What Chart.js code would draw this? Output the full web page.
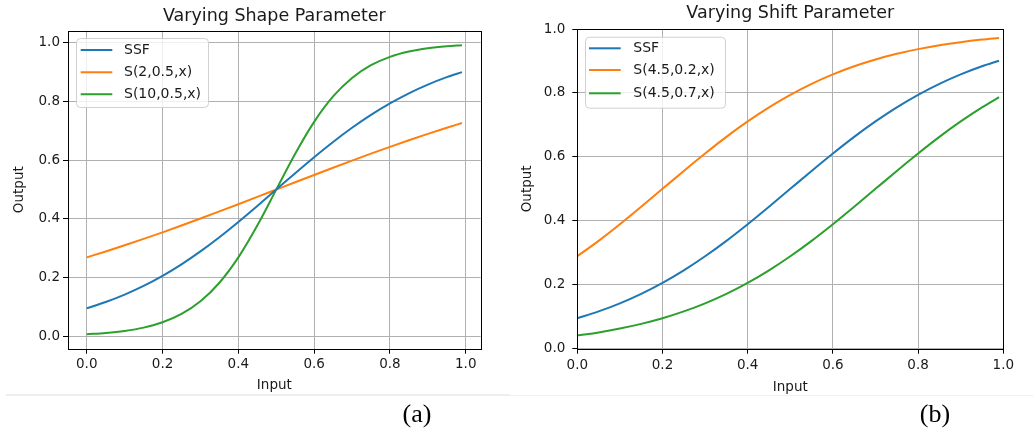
<!DOCTYPE html>
<html>
<head>
<meta charset="utf-8">
<script src="https://cdn.jsdelivr.net/npm/chart.js@4.4.1/dist/chart.umd.min.js"></script>
<style>
html,body{margin:0;padding:0;background:#fff;width:1033px;height:431px;overflow:hidden;position:relative}
canvas{position:absolute;top:0}
#ca{left:0}
#cb{left:510px}
.sep{position:absolute}
.cap{position:absolute;width:100px;text-align:center;font-family:"Liberation Serif","Times New Roman",serif;font-size:26px;line-height:26px;color:#000}
</style>
</head>
<body>
<canvas id="ca" width="510" height="400"></canvas>
<canvas id="cb" width="523" height="400"></canvas>
<div class="sep" style="left:6px;top:394px;width:504px;height:2px;background:#eeeeee"></div>
<div class="sep" style="left:510px;top:395px;width:523px;height:1px;background:#f0f0f0"></div>
<div class="cap" style="left:367px;top:401px">(a)</div>
<div class="cap" style="left:885px;top:401px">(b)</div>
<script>
// ---- data ----
const xValues = [0.00,0.05,0.10,0.15,0.20,0.25,0.30,0.35,0.40,0.45,0.50,0.55,0.60,0.65,0.70,0.75,0.80,0.85,0.90,0.95,0.99];
const ssfValues = [0.0953,0.1166,0.1419,0.1715,0.2059,0.2451,0.2891,0.3374,0.3894,0.4440,0.5000,0.5560,0.6106,0.6626,0.7109,0.7549,0.7941,0.8285,0.8581,0.8834,0.9007];
const shape2Values = [0.2689,0.2891,0.3100,0.3318,0.3543,0.3775,0.4013,0.4256,0.4502,0.4750,0.5000,0.5250,0.5498,0.5744,0.5987,0.6225,0.6457,0.6682,0.6900,0.7109,0.7271];
const shape10Values = [0.0067,0.0110,0.0180,0.0293,0.0474,0.0759,0.1192,0.1824,0.2689,0.3775,0.5000,0.6225,0.7311,0.8176,0.8808,0.9241,0.9526,0.9707,0.9820,0.9890,0.9926];
const shift02Values = [0.2891,0.3374,0.3894,0.4440,0.5000,0.5560,0.6106,0.6626,0.7109,0.7549,0.7941,0.8285,0.8581,0.8834,0.9047,0.9223,0.9370,0.9491,0.9589,0.9669,0.9722];
const shift07Values = [0.0411,0.0509,0.0630,0.0776,0.0953,0.1166,0.1419,0.1715,0.2059,0.2451,0.2891,0.3374,0.3894,0.4440,0.5000,0.5560,0.6106,0.6626,0.7109,0.7549,0.7867];
const xTicks = [0.0,0.2,0.4,0.6,0.8,1.0];
const yTicks = [0.0,0.2,0.4,0.6,0.8,1.0];
const labelsA = ['SSF','S(2,0.5,x)','S(10,0.5,x)'];
const labelsB = ['SSF','S(4.5,0.2,x)','S(4.5,0.7,x)'];
const colors = ['#1f77b4','#ff7f0e','#2ca02c'];

Chart.defaults.font.family = '"DejaVu Sans", sans-serif';

const framePlugin = {
  id: 'frame',
  afterDatasetsDraw(chart) {
    const a = chart.chartArea, ctx = chart.ctx;
    const l = Math.round(a.left) + 0.5, t = Math.round(a.top) + 0.5;
    const r = Math.round(a.right) + 0.5, b = Math.round(a.bottom) + 0.5;
    ctx.save();
    ctx.strokeStyle = '#000';
    ctx.lineWidth = 1;
    ctx.strokeRect(l, t, r - l, b - t);
    ctx.restore();
  }
};

const legendPlugin = {
  id: 'mplLegend',
  afterDatasetsDraw(chart, args, o) {
    const ctx = chart.ctx;
    ctx.save();
    ctx.beginPath();
    ctx.roundRect(o.bx + 0.5, o.by + 0.5, o.bw, o.bh, 4);
    ctx.fillStyle = 'rgba(255,255,255,0.8)';
    ctx.fill();
    ctx.strokeStyle = '#d0d0d0';
    ctx.lineWidth = 1;
    ctx.stroke();
    chart.data.datasets.forEach((ds, i) => {
      const y = o.rows[i];
      ctx.beginPath();
      ctx.moveTo(o.lx0, y);
      ctx.lineTo(o.lx1, y);
      ctx.strokeStyle = ds.borderColor;
      ctx.lineWidth = 2;
      ctx.stroke();
      ctx.fillStyle = '#1a1a1a';
      ctx.font = '14px "DejaVu Sans"';
      ctx.textBaseline = 'middle';
      ctx.textAlign = 'left';
      ctx.fillText(ds.label, o.tx, y);
    });
    ctx.restore();
  }
};

function makeDatasets(labels, series) {
  return series.map((vals, i) => ({
    label: labels[i],
    data: xValues.map((x, j) => ({x: x, y: vals[j]})),
    borderColor: colors[i],
    backgroundColor: colors[i],
    borderWidth: 2,
    pointRadius: 0,
    fill: false,
    cubicInterpolationMode: 'monotone'
  }));
}

function makeChart(id, c) {
  return new Chart(document.getElementById(id), {
    type: 'line',
    data: {datasets: makeDatasets(c.labels, c.series)},
    plugins: [framePlugin, legendPlugin],
    options: {
      responsive: false,
      animation: false,
      events: [],
      layout: {padding: {left: 0, top: 0, right: c.padRight, bottom: c.padBottom}},
      plugins: {
        legend: {display: false},
        tooltip: {enabled: false},
        title: {
          display: true, text: c.title, fullSize: false, color: '#1a1a1a',
          font: {size: 17.5, weight: 'normal'},
          padding: {top: c.titleTop, bottom: c.titleBottom}
        },
        mplLegend: c.legend
      },
      scales: {
        x: {
          type: 'linear', min: c.xMin, max: c.xMax,
          afterBuildTicks: s => { s.ticks = xTicks.map(v => ({value: v})); },
          afterFit: s => { s.height = c.xAxisH; },
          ticks: {callback: v => v.toFixed(1), padding: c.xTickPad, autoSkip: false, maxRotation: 0, color: '#1a1a1a', font: {size: 13.5}},
          grid: {color: '#b0b0b0', lineWidth: 1, tickLength: 5, tickColor: '#000', tickWidth: 1},
          border: {display: false},
          title: {display: true, text: 'Input', color: '#1a1a1a', font: {size: 13.5}, padding: {top: 0, bottom: c.xTitlePad}}
        },
        y: {
          type: 'linear', min: c.yMin, max: c.yMax,
          afterBuildTicks: s => { s.ticks = yTicks.map(v => ({value: v})); },
          afterFit: s => { s.width = c.yAxisW; },
          ticks: {callback: v => v.toFixed(1), padding: c.yTickPad, autoSkip: false, color: '#1a1a1a', font: {size: 13.5}},
          grid: {color: '#b0b0b0', lineWidth: 1, tickLength: 5, tickColor: '#000', tickWidth: 1},
          border: {display: false},
          title: {display: true, text: 'Output', color: '#1a1a1a', font: {size: 13.5}, padding: {top: c.yTitlePad, bottom: 0}}
        }
      }
    }
  });
}

makeChart('ca', {
  title: 'Varying Shape Parameter',
  labels: labelsA,
  series: [ssfValues, shape2Values, shape10Values],
  xMin: -0.0495, xMax: 1.0395, yMin: -0.0426, yMax: 1.0419,
  padRight: 29.3, padBottom: 4.3,
  titleTop: 5.6, titleBottom: 4.1,
  xAxisH: 47, xTickPad: 3, xTitlePad: 2.6,
  yAxisW: 68, yTickPad: 3, yTitlePad: 11.7,
  legend: {bx: 76, by: 38, bw: 132, bh: 69, rows: [50, 72.3, 94.3], lx0: 80.7, lx1: 112.3, tx: 124}
});

makeChart('cb', {
  title: 'Varying Shift Parameter',
  labels: labelsB,
  series: [ssfValues, shift02Values, shift07Values],
  xMin: 0, xMax: 1, yMin: 0, yMax: 1,
  padRight: 29.7, padBottom: 4.3,
  titleTop: 2.9, titleBottom: 5.1,
  xAxisH: 47, xTickPad: 4, xTitlePad: 0.1,
  yAxisW: 67.3, yTickPad: 7, yTitlePad: 9.4,
  legend: {bx: 75, by: 36.7, bw: 140, bh: 71, rows: [48.3, 70, 93.3], lx0: 79, lx1: 110.7, tx: 123.3}
});
</script>
</body>
</html>
